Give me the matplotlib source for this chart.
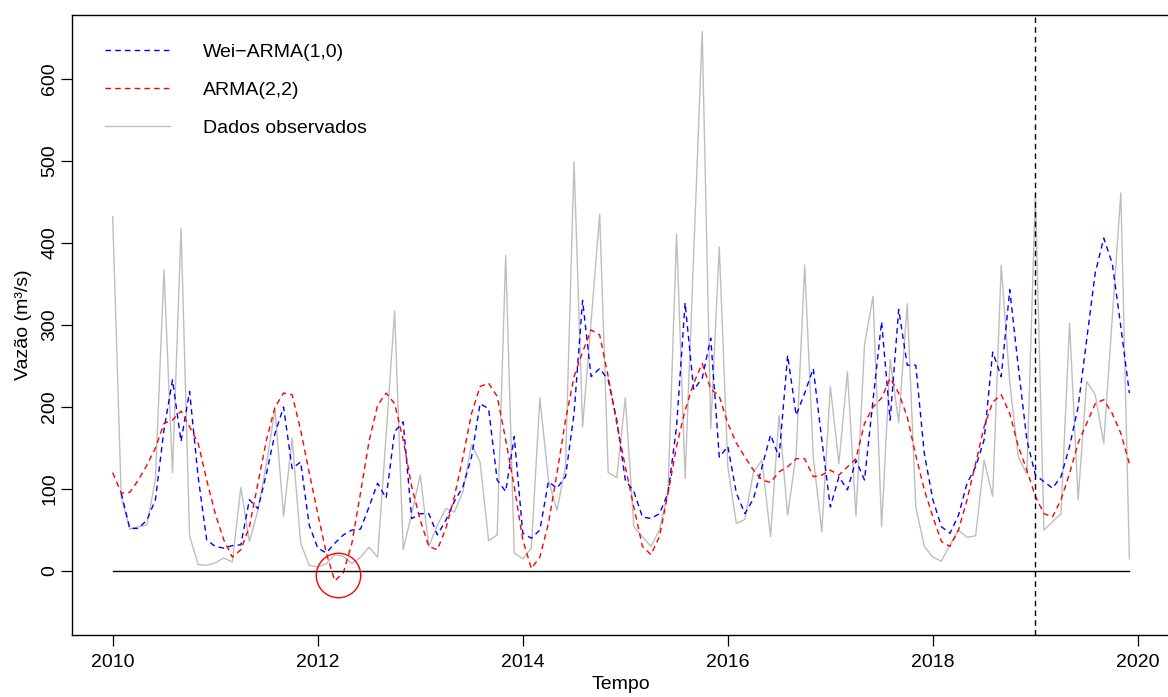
import numpy as np
import matplotlib.pyplot as plt

plt.rcParams['font.family'] = ['Liberation Sans', 'DejaVu Sans']

# monthly series, Jan 2010 .. Dec 2019
time = 2010 + np.arange(120) / 12

observed = [432, 90, 51, 54, 56, 112, 367, 120, 418, 43, 8, 7,
            10, 16, 11, 102, 36, 74, 131, 197, 67, 162, 34, 7,
            5, 9, 20, 18, 9, 17, 29, 17, 165, 317, 26, 70,
            117, 30, 56, 76, 72, 97, 154, 133, 37, 44, 385, 22,
            15, 28, 211, 111, 74, 127, 499, 176, 305, 435, 120, 114,
            211, 54, 42, 30, 50, 97, 411, 113, 385, 658, 174, 395,
            127, 58, 63, 121, 135, 42, 190, 68, 143, 373, 139, 48,
            225, 131, 243, 67, 276, 335, 54, 258, 181, 326, 78, 30,
            17, 12, 32, 50, 41, 43, 135, 91, 373, 230, 139, 118,
            459, 50, 60, 70, 302, 87, 231, 215, 156, 309, 461, 15]

wei_arma = [np.nan, 95, 52, 52, 62, 87, 172, 233, 158, 219, 115, 38,
            30, 28, 31, 32, 87, 76, 119, 168, 200, 125, 133, 56,
            28, 22, 34, 44, 50, 51, 78, 107, 89, 170, 182, 64,
            70, 70, 44, 62, 85, 103, 139, 204, 198, 111, 97, 164,
            46, 40, 50, 109, 101, 115, 192, 330, 237, 247, 233, 184,
            111, 97, 66, 64, 70, 95, 176, 327, 221, 235, 284, 139,
            152, 95, 70, 88, 127, 166, 139, 263, 190, 217, 247, 160,
            78, 115, 99, 135, 111, 209, 304, 184, 319, 251, 251, 143,
            87, 54, 46, 68, 107, 127, 160, 267, 237, 343, 249, 160,
            117, 109, 101, 115, 152, 200, 282, 363, 406, 375, 298, 217]

arma22 = [120, 95, 96, 111, 129, 150, 180, 184, 195, 176, 156, 111,
          70, 38, 17, 26, 54, 107, 160, 200, 217, 215, 172, 120,
          70, 22, -12, -2, 34, 95, 158, 202, 217, 204, 160, 103,
          62, 30, 26, 52, 91, 139, 192, 225, 229, 213, 160, 103,
          38, 3, 17, 58, 119, 184, 237, 267, 294, 288, 237, 180,
          127, 78, 30, 20, 42, 95, 152, 196, 229, 253, 222, 213,
          180, 156, 139, 123, 111, 108, 121, 127, 137, 137, 115, 117,
          123, 117, 127, 137, 180, 200, 211, 235, 217, 188, 141, 99,
          66, 36, 30, 50, 87, 131, 176, 206, 215, 192, 152, 123,
          91, 70, 66, 87, 119, 156, 180, 204, 209, 192, 168, 131]

fig = plt.figure(figsize=(11.68, 6.97), dpi=100)
ax = fig.add_axes([72 / 1168, 1 - 635 / 697, 1098 / 1168, 620 / 697])

l_obs, = ax.plot(time, observed, color='#BEBEBE', lw=1.0)
l_wei, = ax.plot(time, wei_arma, color='blue', lw=1.0, dashes=(4, 3))
l_arma, = ax.plot(time, arma22, color='red', lw=1.0, dashes=(4, 3))

# zero reference, forecast start and highlighted negative value
ax.plot([time[0], time[-1]], [0, 0], color='black', lw=1.0)
ax.axvline(2019, color='black', lw=1.0, dashes=(4, 3))
ax.plot(2012.2, -5, 'o', ms=32, mfc='none', mec='red', mew=1.0)

ax.set_xlim(2009.603, 2020.313)
ax.set_ylim(-78, 678)
ax.set_xticks(range(2010, 2021, 2))
ax.set_yticks(range(0, 700, 100))
ax.tick_params(axis='both', length=8, width=0.9, labelsize=14, colors='black')
ax.tick_params(axis='x', pad=6)
ax.tick_params(axis='y', pad=2)
for lab in ax.get_yticklabels():
    lab.set_rotation(90)
    lab.set_va('center')
for sp in ax.spines.values():
    sp.set_linewidth(1.0)

ax.set_xlabel('Tempo', fontsize=14, labelpad=3)
ax.set_ylabel('Vazão (m³/s)', fontsize=14, labelpad=6.5)

ax.legend([l_wei, l_arma, l_obs], ['Wei−ARMA(1,0)', 'ARMA(2,2)', 'Dados observados'],
          loc='upper left', bbox_to_anchor=(0.030, 0.955), frameon=False,
          borderpad=0, borderaxespad=0, handlelength=3.35, handletextpad=1.7,
          labelspacing=1.06, fontsize=14)

fig.savefig('out.png', dpi=100)
